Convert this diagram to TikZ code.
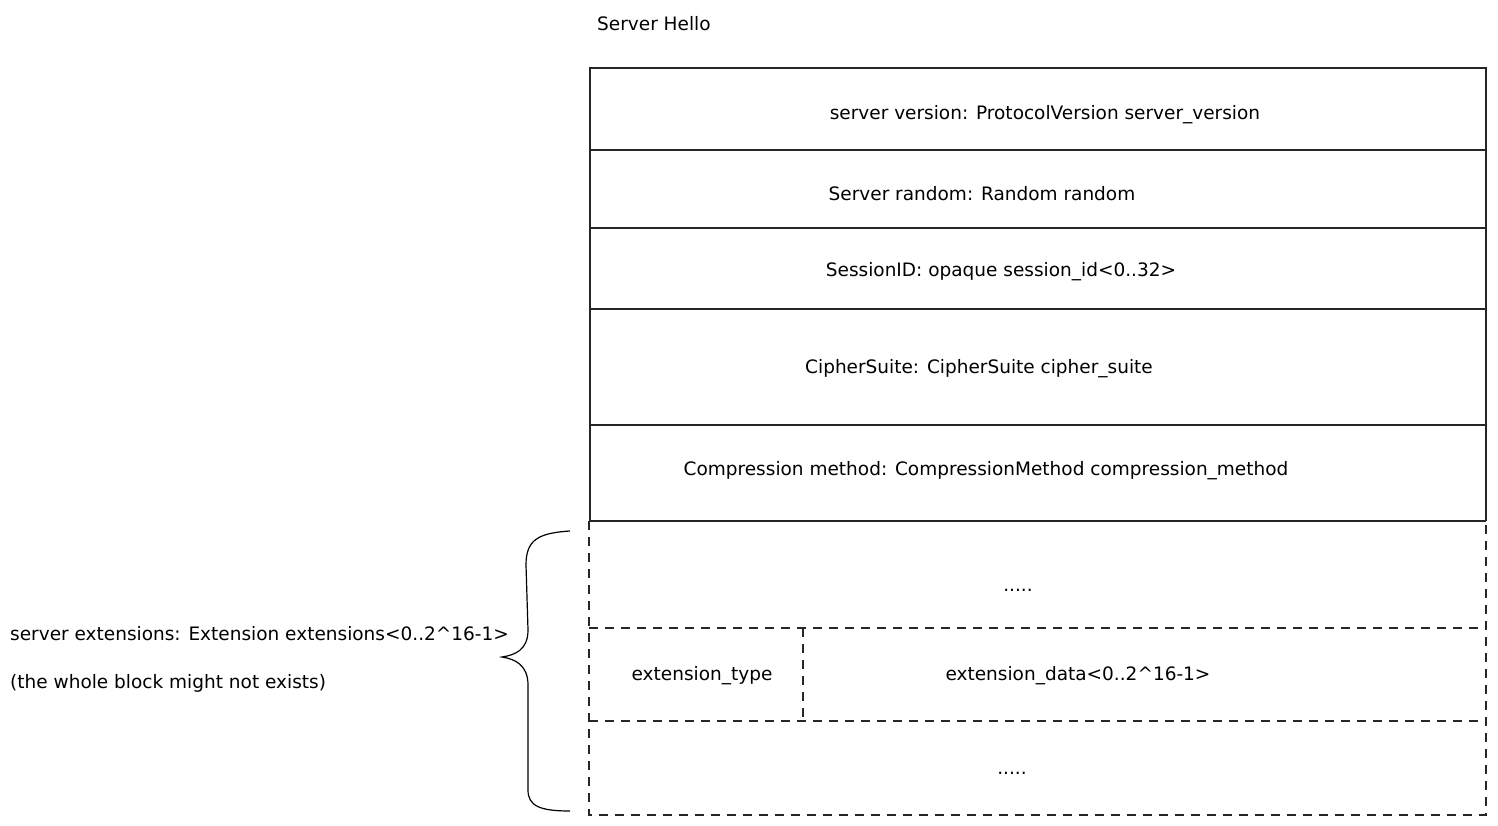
\documentclass[tikz,border=0pt]{standalone}
\usepackage{fontspec}
\setmainfont{DejaVu Sans}
\begin{document}
\begin{tikzpicture}[x=1pt,y=-1pt,
  lbl/.style={font=\fontsize{18.5}{22}\selectfont, inner sep=0pt},
  solidline/.style={line width=1.2pt, draw=black!85},
  dashline/.style={line width=1.2pt, draw=black!85, dash pattern=on 9pt off 7pt}]
\useasboundingbox (0,0) rectangle (1498,825);
% solid block
\draw[solidline] (590,521) -- (590,68) -- (1486,68) -- (1486,521);
\foreach \y in {150,228,309,425} \draw[solidline] (590,\y) -- (1486,\y);
\draw[solidline] (590,521) -- (1486,521);
% dashed block
\draw[dashline] (589,521) -- (589,815) -- (1486,815) -- (1486,521);
\draw[dashline] (589,628) -- (1486,628);
\draw[dashline] (589,721) -- (1486,721);
\draw[dashline] (803,628) -- (803,721);
% brace
\draw[line width=1.2pt] (570,531) .. controls (538,533) and (526,540) .. (526,565) -- (528,630) .. controls (528,650) and (515,655) .. (502,657) .. controls (515,659) and (528,665) .. (528,685) -- (528,790) .. controls (528,806) and (540,811) .. (570,811);
% texts
\node[lbl, anchor=west] (title) at (597,24) {Server Hello};
\node[lbl] (ver) at (1045,115) {server version: ProtocolVersion server\_version};
\node[lbl] (rnd) at (982,194) {Server random: Random random};
\node[lbl] (sid) at (1001,272) {SessionID: opaque session\_id<0..32>};
\node[lbl] (cs) at (979,369) {CipherSuite: CipherSuite cipher\_suite};
\node[lbl] (cm) at (986,471) {Compression method: CompressionMethod compression\_method};
\node[lbl] (d1) at (1018,590) {.....};
\node[lbl] (et) at (702,676) {extension\_type};
\node[lbl] (ed) at (1078,676) {extension\_data<0..2\^{}16-1>};
\node[lbl] (d2) at (1012,773) {.....};
\node[lbl, anchor=west] (ext) at (10,634) {server extensions: Extension extensions<0..2\^{}16-1>};
\node[lbl, anchor=west] (note) at (10,683) {(the whole block might not exists)};
\end{tikzpicture}
\end{document}
